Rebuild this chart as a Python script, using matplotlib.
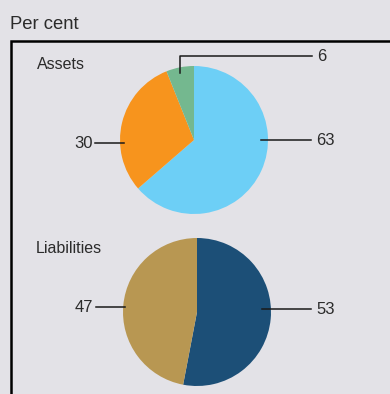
import matplotlib
matplotlib.use("Agg")
import matplotlib.pyplot as plt
from matplotlib.lines import Line2D

plt.rcParams['font.family'] = ['Liberation Sans', 'DejaVu Sans']

# ---------------------------------------------------------------------------
# Data
# ---------------------------------------------------------------------------
asset_labels = ["63", "30", "6"]
asset_values = [63, 30, 6]
asset_colors = ["#6dcff6", "#f7941d", "#74b88f"]

liab_labels = ["53", "47"]
liab_values = [53, 47]
liab_colors = ["#1c4f77", "#b89752"]

BG = "#e3e2e7"
TXT = "#2b2b2b"
W, H = 390, 394


def py(y):
    """Pixel row (top-down) -> data y (bottom-up)."""
    return H - y


fig = plt.figure(figsize=(W / 100, H / 100), dpi=100, facecolor=BG)
ax = fig.add_axes([0, 0, 1, 1])
ax.set_facecolor(BG)

# Pies
ax.pie(asset_values, colors=asset_colors, startangle=90, counterclock=False,
       center=(194, py(140)), radius=74, normalize=True,
       wedgeprops=dict(linewidth=0))
ax.pie(liab_values, colors=liab_colors, startangle=90, counterclock=False,
       center=(197, py(312)), radius=74, normalize=True,
       wedgeprops=dict(linewidth=0))

ax.set_xlim(0, W)
ax.set_ylim(0, H)
ax.set_aspect("auto")
ax.axis("off")

# Frame (left and top only visible)
ax.add_line(Line2D([10.5, 10.5, W + 5], [-5, py(40.5), py(40.5)],
                   color="black", linewidth=1.8, clip_on=False,
                   solid_joinstyle="miter"))

# Titles
ax.text(10, py(29), "Per cent", fontsize=13.3, color=TXT, va="baseline")
ax.text(37, py(69), "Assets", fontsize=11.5, color=TXT, va="baseline")
ax.text(36, py(253), "Liabilities", fontsize=11.5, color=TXT, va="baseline")

lk = dict(color="#1a1a1a", linewidth=1.1)
tk = dict(fontsize=12, color=TXT, va="center")

# Assets labels
ax.plot([261, 311], [py(140), py(140)], **lk)
ax.text(316, py(140), asset_labels[0], ha="left", **tk)
ax.plot([124, 95], [py(143), py(143)], **lk)
ax.text(93, py(143), asset_labels[1], ha="right", **tk)
ax.plot([180, 180, 312], [py(73), py(56), py(56)], **lk)
ax.text(317, py(56), asset_labels[2], ha="left", **tk)

# Liabilities labels
ax.plot([262, 311], [py(309), py(309)], **lk)
ax.text(316, py(309), liab_labels[0], ha="left", **tk)
ax.plot([125, 96], [py(307), py(307)], **lk)
ax.text(93, py(307), liab_labels[1], ha="right", **tk)

fig.savefig("out.png", dpi=100, facecolor=BG)
